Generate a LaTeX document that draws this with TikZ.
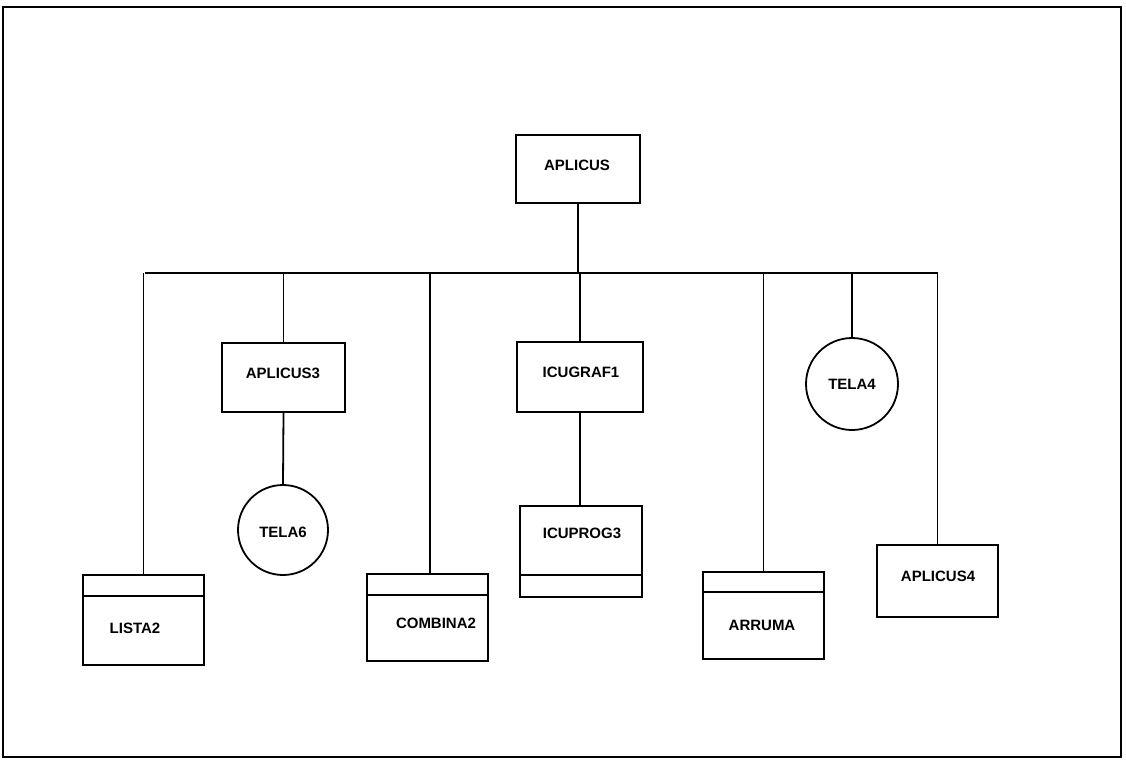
\documentclass[tikz,border=0pt]{standalone}
\usepackage{fontspec}
\setmainfont{Liberation Sans}
\begin{document}
\begin{tikzpicture}[x=1pt,y=-1pt,
  ln/.style={line width=1.8pt},
  box/.style={draw,line width=1.8pt,inner sep=0pt},
  circ/.style={draw,circle,line width=1.8pt,inner sep=0pt},
  lbl/.style={font=\fontsize{15}{17}\selectfont\bfseries,inner sep=0pt}]
\useasboundingbox (0,0) rectangle (1126,770);
\node[draw,line width=1.8pt,minimum width=1118,minimum height=750,inner sep=0pt] (frame) at (562,382) {};
% boxes
\node[box,minimum width=124,minimum height=68] (aplicus) at (578,169) {};
\node[lbl] at (577,165) {APLICUS};
\node[box,minimum width=123,minimum height=69] (aplicus3) at (283.5,377.5) {};
\node[lbl] at (283,373) {APLICUS3};
\node[box,minimum width=126,minimum height=70] (icugraf1) at (580,377) {};
\node[lbl] at (581,372) {ICUGRAF1};
\node[box,minimum width=122,minimum height=91] (icuprog3) at (581,551.5) {};
\node[lbl] at (582,533) {ICUPROG3};
\node[box,minimum width=121,minimum height=90] (lista2) at (143.5,620) {};
\node[lbl] at (135,628) {LISTA2};
\node[box,minimum width=121,minimum height=87] (combina2) at (427.5,617.5) {};
\node[lbl] at (436,623) {COMBINA2};
\node[box,minimum width=121,minimum height=87] (arruma) at (763.5,615.5) {};
\node[lbl] at (762,625) {ARRUMA};
\node[box,minimum width=121,minimum height=72] (aplicus4) at (937.5,581) {};
\node[lbl] at (938,576) {APLICUS4};
\node[circ,minimum size=90] (tela6) at (283,530) {};
\node[lbl] at (283,532) {TELA6};
\node[circ,minimum size=92] (tela4) at (852,384) {};
\node[lbl] at (852,384) {TELA4};
% dividers
\draw[ln] ([yshift=23pt]icuprog3.south west) -- ([yshift=23pt]icuprog3.south east);
\draw[ln] ([yshift=-22pt]lista2.north west) -- ([yshift=-22pt]lista2.north east);
\draw[ln] ([yshift=-22pt]combina2.north west) -- ([yshift=-22pt]combina2.north east);
\draw[ln] ([yshift=-21pt]arruma.north west) -- ([yshift=-21pt]arruma.north east);
% bus
\coordinate (busL) at (145,273);
\coordinate (busR) at (938,273);
\draw[ln] (busL) -- (busR);
\draw[ln] (aplicus.south) -- (aplicus.south |- busL);
\draw[ln] (lista2.north) -- (lista2.north |- busL);
\draw[ln] (aplicus3.north) -- (aplicus3.north |- busL);
\draw[ln] ([xshift=2.5pt]combina2.north) -- ([xshift=2.5pt]combina2.north |- busL);
\draw[ln] (icugraf1.north) -- (icugraf1.north |- busL);
\draw[ln] (arruma.north) -- (arruma.north |- busL);
\draw[ln] (tela4.north) -- (tela4.north |- busL);
\draw[ln] (aplicus4.north) -- (aplicus4.north |- busL);
\draw[ln] (aplicus3.south) -- (tela6.north);
\draw[ln] (icugraf1.south) -- (icugraf1.south |- icuprog3.north);
\end{tikzpicture}
\end{document}
